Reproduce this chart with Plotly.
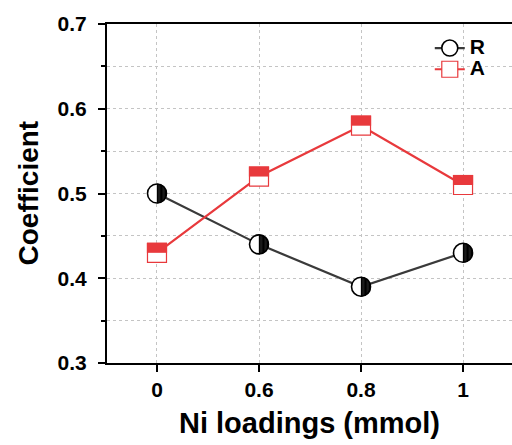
import numpy as np
import plotly.graph_objects as go

categories = ["0", "0.6", "0.8", "1"]
r_values = [0.50, 0.44, 0.39, 0.43]
a_values = [0.43, 0.52, 0.58, 0.51]
series_names = ["R", "A"]
y_tick_start = 0.3
y_tick_step = 0.1

RED = "#e8393c"
DARK = "#3a3a3a"
FONT = "Liberation Sans"


def legend_label(s):
    return "<span style='font-size:21px'>" + s + "</span>"


fig = go.Figure()

# ---- R series: circle, left half white, right half black ----
cd = 19
fig.add_trace(go.Scatter(
    x=categories, y=r_values, name=legend_label(series_names[0]), mode="lines+markers",
    legendrank=1,
    line=dict(color=DARK, width=2.2),
    marker=dict(symbol="circle", size=cd, color="white",
                line=dict(color="black", width=1.6)),
))
N = 12
rad = cd / 2 + 0.3
w = rad / N
for i in range(N):
    c = (i + 0.5) * w
    h = np.sqrt(rad ** 2 - c ** 2)
    fig.add_trace(go.Scatter(
        x=categories, y=r_values, mode="markers", showlegend=False, hoverinfo="skip",
        marker=dict(symbol="line-ew-open", size=2 * h / 1.4, color="black",
                    angle=-90, standoff=c, line=dict(width=w + 0.35)),
    ))

# ---- A series: square, top half red, bottom half white ----
sq = 19
fig.add_trace(go.Scatter(
    x=categories, y=a_values, name=legend_label(series_names[1]), mode="lines+markers",
    legendrank=2,
    line=dict(color=RED, width=2.2),
    marker=dict(symbol="square", size=sq, color="white",
                line=dict(color=RED, width=1.2)),
))
half = sq / 2 + 0.6
fig.add_trace(go.Scatter(
    x=categories, y=a_values, mode="markers", showlegend=False, hoverinfo="skip",
    marker=dict(symbol="line-ew-open", size=(sq + 1.2) / 1.4, color=RED,
                angle=180, standoff=half / 2, line=dict(width=half)),
))

fig.update_layout(
    width=512, height=445,
    margin=dict(l=107, r=0, t=24, b=82),
    plot_bgcolor="white", paper_bgcolor="white",
    font=dict(family=FONT, color="black"),
    legend=dict(x=0.797, y=0.975, xanchor="left", yanchor="top",
                bgcolor="rgba(0,0,0,0)", font=dict(size=14, weight="bold"),
                tracegroupgap=0, itemwidth=30),
    annotations=[dict(text="Coefficient", textangle=-90, xref="paper", yref="paper",
                      x=0, y=0.5, xanchor="center", yanchor="middle", xshift=-79,
                      showarrow=False, font=dict(size=28, weight="bold"))],
)
fig.update_xaxes(
    type="category", range=[-0.49, 3.48],
    showline=True, linecolor="black", linewidth=2, mirror=True,
    ticks="outside", ticklen=7, tickwidth=2, tickcolor="black",
    showgrid=True, gridcolor="#c4c4c4", griddash="dot", gridwidth=1,
    tickfont=dict(size=21, weight="bold"),
    title=dict(text="Ni loadings (mmol)", font=dict(size=29, weight="bold"), standoff=12),
)
fig.update_yaxes(
    range=[0.3, 0.7], tick0=y_tick_start, dtick=y_tick_step, tickformat=".1f",
    showline=True, linecolor="black", linewidth=2, mirror=False, zeroline=False,
    ticks="outside", ticklen=7, tickwidth=2, tickcolor="black", ticklabelstandoff=7,
    showgrid=True, gridcolor="#c4c4c4", griddash="dot", gridwidth=1,
    tickfont=dict(size=21, weight="bold"),
    minor=dict(dtick=y_tick_step / 2, ticks="outside", ticklen=4, tickwidth=2,
               tickcolor="black", showgrid=True, gridcolor="#c4c4c4",
               griddash="dot", gridwidth=1),
)

fig.write_html("out.html")
